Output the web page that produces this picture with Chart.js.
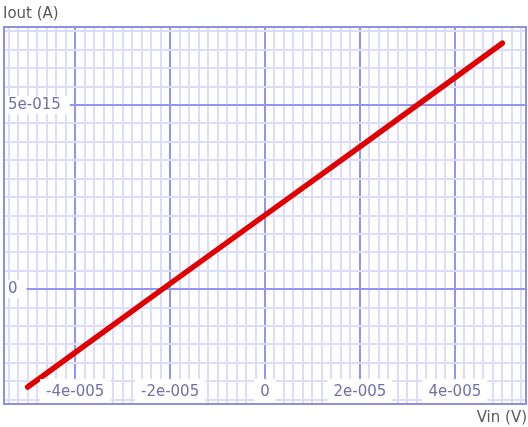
<!DOCTYPE html>
<html>
<head>
<meta charset="utf-8">
<script src="https://cdn.jsdelivr.net/npm/chart.js@4.4.1/dist/chart.umd.min.js"></script>
<style>
  html, body { margin: 0; padding: 0; background: #ffffff; }
  #wrap { width: 528px; height: 427px; }
</style>
</head>
<body>
<div id="wrap"><canvas id="ivChart" width="528" height="427"></canvas></div>
<script>
// values
var vin = [-5e-5, -4e-5, -2e-5, 0, 2e-5, 4e-5, 5e-5];
var iout = [-2.66e-15, -1.72e-15, 0.15e-15, 2.01e-15, 3.87e-15, 5.74e-15, 6.68e-15];

var xTicks = [-4e-5, -2e-5, 0, 2e-5, 4e-5];
var xTickLabels = ['-4e-005', '-2e-005', '0', '2e-005', '4e-005'];
var yTicks = [0, 5e-15];
var yTickLabels = ['0', '5e-015'];

var xRange = [-5.5e-5, 5.5e-5];
var yRange = [-3.12e-15, 7.12e-15];
var xMinorStep = 2e-6;
var yMinorStep = 0.5e-15;

var labelFont = '15px "DejaVu Sans"';
var labelColor = '#7070aa';
var titleColor = '#5a5a5a';
var majorColor = '#9494f4';
var minorColor = '#dcdcfd';

function minorTicks(scale, step) {
     var ticks = [];
     var start = Math.ceil(scale.min / step - 1e-6);
     var end = Math.floor(scale.max / step + 1e-6);
     for (var i = start; i <= end; i++) {
          ticks.push({ value: i * step });
     }
     scale.ticks = ticks;
}

function nearMajor(value, majors, step) {
     for (var i = 0; i < majors.length; i++) {
          if (Math.abs(value - majors[i]) < step * 0.01) return true;
     }
     return false;
}

// frame, tick labels with white backdrops and axis titles
var decorPlugin = {
     id: 'decor',
     afterDatasetsDraw: function (chart) {
          var ctx = chart.ctx;
          var area = chart.chartArea;
          var xs = chart.scales.x;
          var ys = chart.scales.y;
          ctx.save();
          ctx.font = labelFont;
          ctx.textBaseline = 'middle';

          // x tick labels
          ctx.textAlign = 'center';
          xTicks.forEach(function (v, i) {
               var px = xs.getPixelForValue(v);
               var w = ctx.measureText(xTickLabels[i]).width;
               ctx.fillStyle = '#ffffff';
               ctx.fillRect(px - w / 2 - 6, 379, w + 12, area.bottom - 379 - 1);
               ctx.fillStyle = labelColor;
               ctx.fillText(xTickLabels[i], px, 392);
          });

          // y tick labels
          ctx.textAlign = 'left';
          yTicks.forEach(function (v, i) {
               var py = ys.getPixelForValue(v);
               var w = ctx.measureText(yTickLabels[i]).width;
               ctx.fillStyle = '#ffffff';
               ctx.fillRect(area.left + 1, py - 9, w + 12, 18);
               ctx.fillStyle = labelColor;
               ctx.fillText(yTickLabels[i], area.left + 4, py);
          });

          // frame
          ctx.strokeStyle = '#9090e2';
          ctx.lineWidth = 2;
          ctx.strokeRect(area.left, area.top, area.right - area.left, area.bottom - area.top);

          // axis titles
          ctx.fillStyle = titleColor;
          ctx.textAlign = 'left';
          ctx.fillText('Iout (A)', 3, 14);
          ctx.textAlign = 'right';
          ctx.fillText('Vin (V)', 527, 418);
          ctx.restore();
     }
};

function createIVChart() {
     var ctx = document.getElementById('ivChart').getContext('2d');
     window.ivChart = new Chart(ctx, {
          type: 'line',
          data: {
               datasets: [{
                    label: 'Iout',
                    data: vin.map(function (x, i) { return { x: x, y: iout[i] }; }),
                    borderColor: '#e00000',
                    borderWidth: 5.5,
                    borderCapStyle: 'round',
                    pointRadius: 0,
                    fill: false,
                    tension: 0
               }]
          },
          options: {
               responsive: false,
               animation: false,
               layout: {
                    padding: { left: 4, top: 27, right: 2, bottom: 23 }
               },
               scales: {
                    x: {
                         type: 'linear',
                         min: xRange[0],
                         max: xRange[1],
                         afterBuildTicks: function (scale) { minorTicks(scale, xMinorStep); },
                         ticks: { display: false },
                         border: { display: false },
                         grid: {
                              drawTicks: false,
                              color: function (c) {
                                   return nearMajor(c.tick.value, xTicks, xMinorStep) ? majorColor : minorColor;
                              },
                              lineWidth: 2
                         }
                    },
                    y: {
                         type: 'linear',
                         min: yRange[0],
                         max: yRange[1],
                         afterBuildTicks: function (scale) { minorTicks(scale, yMinorStep); },
                         ticks: { display: false },
                         border: { display: false },
                         grid: {
                              drawTicks: false,
                              color: function (c) {
                                   return nearMajor(c.tick.value, yTicks, yMinorStep) ? majorColor : minorColor;
                              },
                              lineWidth: 2
                         }
                    }
               },
               plugins: {
                    legend: { display: false },
                    tooltip: { enabled: false }
               }
          },
          plugins: [decorPlugin]
     });
}

createIVChart();
</script>
</body>
</html>
